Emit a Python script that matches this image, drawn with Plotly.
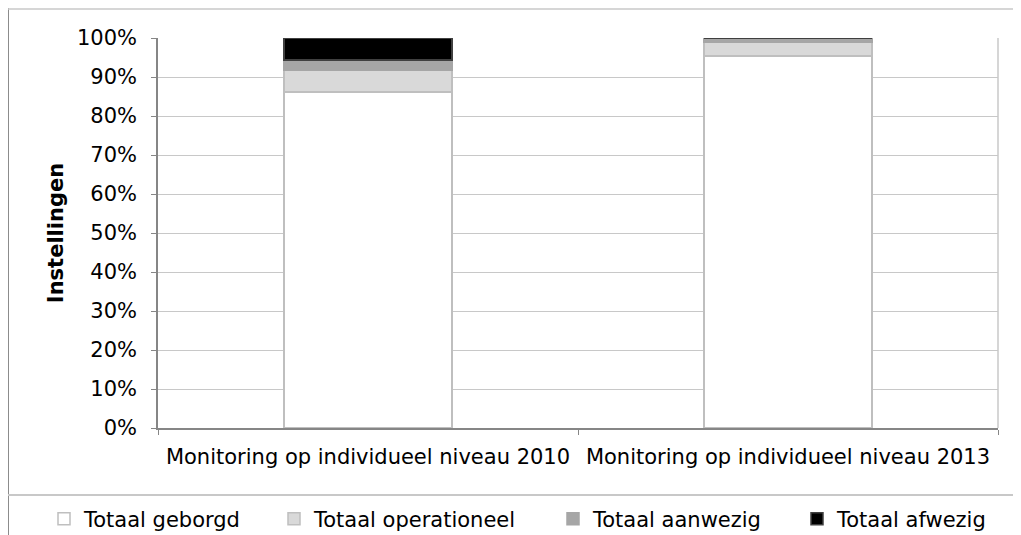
import plotly.graph_objects as go

categories = ["Monitoring op individueel niveau 2010", "Monitoring op individueel niveau 2013"]
series_names = ["Totaal geborgd", "Totaal operationeel", "Totaal aanwezig", "Totaal afwezig"]
geborgd = [0.862, 0.954]
operationeel = [0.056, 0.034]
aanwezig = [0.025, 0.012]
afwezig = [0.057, 0.0]
fill_colors = ["#ffffff", "#d9d9d9", "#a6a6a6", "#000000"]
line_colors = ["#bfbfbf", "#bfbfbf", "#a6a6a6", "#404040"]
y_ticks = [i / 10 for i in range(11)]

FONT = "DejaVu Sans, Verdana, sans-serif"
FS = 21

# page has an 8px body margin; figure coordinates = page coordinates - 8
OFF = 8
W, H = 1021 - OFF, 535 - OFF
L, R, T, B = 158 - OFF, 998 - OFF, 38 - OFF, 428 - OFF

def px(x):
    return (x - OFF - L) / (R - L)

def py(y):
    return (B - (y - OFF)) / (B - T)

legend_names = ["legend", "legend2", "legend3", "legend4"]
legend_text_x = [82, 312, 591, 835]

fig = go.Figure()
for name, vals, fc, lc, lg in zip(series_names, [geborgd, operationeel, aanwezig, afwezig],
                                  fill_colors, line_colors, legend_names):
    fig.add_trace(go.Bar(
        x=categories, y=vals, name=name, legend=lg,
        marker=dict(color=fc, line=dict(color=lc, width=1.5)),
        width=0.4,
    ))

legend_common = dict(
    orientation="h", xanchor="left", yanchor="middle", y=py(519),
    font=dict(family=FONT, size=FS, color="#000000"),
    itemwidth=30, bgcolor="rgba(0,0,0,0)",
)
layout_legends = {}
for lg, tx in zip(legend_names, legend_text_x):
    layout_legends[lg] = dict(legend_common, x=px(tx - 38))

fig.update_layout(
    barmode="stack",
    width=W, height=H,
    margin=dict(l=L, r=W - R, t=T, b=H - B, autoexpand=False),
    paper_bgcolor="white", plot_bgcolor="white",
    font=dict(family=FONT, size=FS, color="#000000"),
    showlegend=True,
    **layout_legends,
)
fig.update_yaxes(
    range=[0, 1], tickvals=y_ticks, tickformat=".0%",
    showgrid=True, gridcolor="#c8c8c8", gridwidth=1,
    showline=True, linecolor="#868686", linewidth=1.5,
    ticks="outside", ticklen=5, tickcolor="#868686",
    ticklabelstandoff=10,
    zeroline=False,
    title=dict(text="<b>Instellingen</b>", standoff=8, font=dict(family=FONT, size=FS)),
)
fig.update_xaxes(
    showline=True, linecolor="#868686", linewidth=1.5,
    ticks="outside", ticklen=5, tickcolor="#868686", tickson="boundaries",
    showgrid=False, ticklabelstandoff=9,
)

fig.add_shape(type="line", xref="paper", yref="paper", x0=px(8), x1=px(8), y0=py(8), y1=py(545),
              line=dict(color="#8c8c8c", width=2))
fig.add_shape(type="line", xref="paper", yref="paper", x0=px(8), x1=px(1030), y0=py(9), y1=py(9),
              line=dict(color="#c8c8c8", width=1.5))
fig.add_shape(type="line", xref="paper", yref="paper", x0=px(8), x1=px(1030), y0=py(495), y1=py(495),
              line=dict(color="#c8c8c8", width=2))
fig.add_shape(type="line", xref="paper", yref="paper", x0=1, x1=1, y0=0, y1=1,
              line=dict(color="#c8c8c8", width=1.5))

fig.write_html("out.html")
